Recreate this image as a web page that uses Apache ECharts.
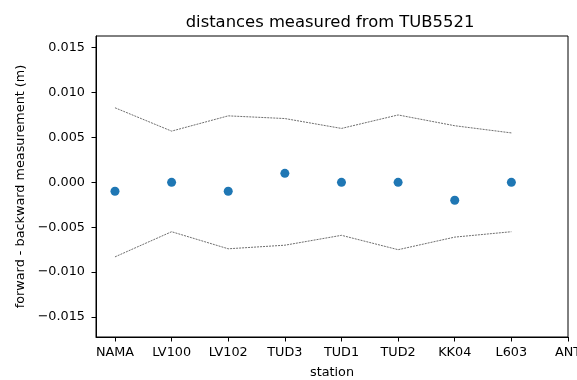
<!DOCTYPE html>
<html>
<head>
<meta charset="utf-8">
<script src="https://cdn.jsdelivr.net/npm/echarts@6/dist/echarts.min.js"></script>
<style>html,body{margin:0;padding:0;background:#fff}#c{width:577px;height:380px}</style>
</head>
<body>
<div id="c"></div>
<script>
const stations = ['NAMA','LV100','LV102','TUD3','TUD1','TUD2','KK04','L603','ANT'];
const differences = [-0.001, 0.0, -0.001, 0.001, 0.0, 0.0, -0.002, 0.0];
const upperBound = [0.0083, 0.0057, 0.0074, 0.0071, 0.0060, 0.0075, 0.0063, 0.0055];
const lowerBound = [-0.0083, -0.0055, -0.0074, -0.0070, -0.0059, -0.0075, -0.0061, -0.0055];
const yTicks = [-0.015, -0.010, -0.005, 0.000, 0.005, 0.010, 0.015];
const xTicks = [0, 1, 2, 3, 4, 5, 6, 7, 8];

const font = 'DejaVu Sans';
const fmtY = v => { const s = Number(v).toFixed(3); return s.startsWith('-') ? '\u2212' + s.slice(1) : s; };
const toPairs = arr => arr.map((v, i) => [i, v]);

const chart = echarts.init(document.getElementById('c'), null, {renderer: 'canvas'});
chart.setOption({
  animation: false,
  backgroundColor: '#fff',
  title: {
    text: 'distances measured from TUB5521',
    left: 325, top: 10, textAlign: 'center',
    textStyle: {fontFamily: font, fontSize: 16.4, fontWeight: 'normal', color: '#000'}
  },
  grid: {left: 96, right: 9, top: 36, bottom: 43, outerBoundsMode: 'none', containLabel: false,
    show: true, borderColor: '#000', borderWidth: 1, backgroundColor: 'transparent'},
  xAxis: {
    type: 'value', min: -0.335, max: 8,
    name: 'station', nameLocation: 'middle', nameGap: 29,
    nameTextStyle: {fontFamily: font, fontSize: 12.8, color: '#000'},
    axisLine: {show: true, onZero: false, lineStyle: {color: '#000', width: 1}},
    axisTick: {show: true, length: 4.5, lineStyle: {color: '#000', width: 1}, customValues: xTicks},
    axisLabel: {customValues: xTicks, margin: 9, fontFamily: font, fontSize: 12.8, color: '#000',
      formatter: v => stations[Math.round(v)] || ''},
    splitLine: {show: false}
  },
  yAxis: {
    type: 'value', min: -0.01722, max: 0.01629,
    name: 'forward - backward measurement (m)', nameLocation: 'middle', nameGap: 67,
    nameTextStyle: {fontFamily: font, fontSize: 12.8, color: '#000'},
    axisLine: {show: true, onZero: false, lineStyle: {color: '#000', width: 1}},
    axisTick: {show: true, length: 4.5, lineStyle: {color: '#000', width: 1}, customValues: yTicks},
    axisLabel: {customValues: yTicks, margin: 11, fontFamily: font, fontSize: 12.8, color: '#000', formatter: fmtY},
    splitLine: {show: false}
  },
  series: [
    {type: 'line', data: toPairs(upperBound), symbol: 'none', silent: true,
      lineStyle: {color: '#6f6f6f', width: 1, type: [2, 1]}},
    {type: 'line', data: toPairs(lowerBound), symbol: 'none', silent: true,
      lineStyle: {color: '#6f6f6f', width: 1, type: [2, 1]}},
    {type: 'scatter', data: toPairs(differences), symbolSize: 9, itemStyle: {color: '#1f77b4', opacity: 1}}
  ]
});
</script>
</body>
</html>
